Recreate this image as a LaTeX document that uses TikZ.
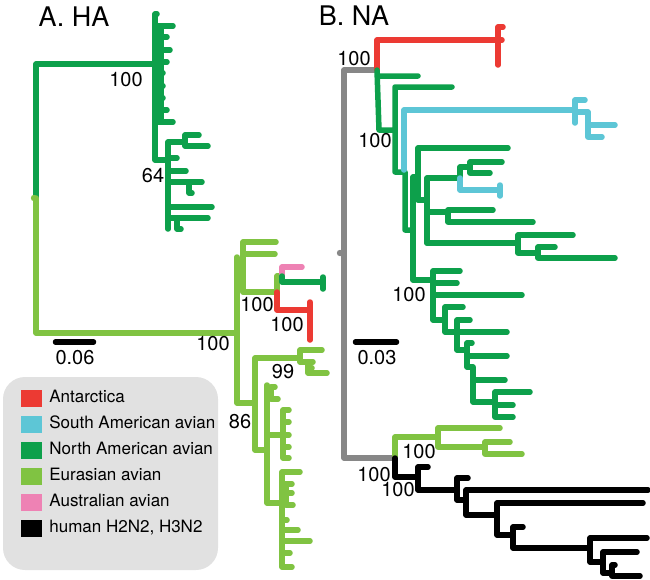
\documentclass[tikz,border=0pt]{standalone}
\usepackage{fontspec}
\setmainfont{TeX Gyre Heros}
\usetikzlibrary{positioning}

\definecolor{colAnt}{HTML}{EC3A33}
\definecolor{colSam}{HTML}{5DC6D6}
\definecolor{colNam}{HTML}{0DA04B}
\definecolor{colEur}{HTML}{80C342}
\definecolor{colAus}{HTML}{EE82B4}
\definecolor{colGray}{HTML}{878787}
\definecolor{colLegend}{HTML}{E1E1E1}

\tikzstyle{branch} = [line width=5.5pt, line cap=round, line join=round]
\tikzstyle{antarc} = [branch, draw=colAnt]
\tikzstyle{southam} = [branch, draw=colSam]
\tikzstyle{northam} = [branch, draw=colNam]
\tikzstyle{eurasia} = [branch, draw=colEur]
\tikzstyle{austral} = [branch, draw=colAus]
\tikzstyle{human} = [branch, draw=black]
\tikzstyle{backbone} = [branch, draw=colGray]
\tikzstyle{support} = [inner sep=0pt, font=\fontsize{20}{20}\selectfont]
\tikzstyle{panel} = [inner sep=0pt, font=\fontsize{27}{27}\selectfont]
\tikzstyle{swatch} = [rectangle, minimum width=21pt, minimum height=17pt, inner sep=0pt]
\tikzstyle{entry} = [inner sep=0pt, text height=12pt, text depth=3pt,
font=\fontsize{17}{17}\selectfont]

\begin{document}
\begin{tikzpicture}[x=1pt, y=-1pt]
\useasboundingbox (0,0) rectangle (650,579);

% A. HA
\node (hatitle) [panel] at (74,17) {A. HA};

\draw [northam] (36,198) -- (36,64) -- (155,64);
\draw [eurasia] (36,198) -- (36,333) -- (237,333);
\fill [colEur] (34,198) circle (3.2);

\draw [northam] (155,14) -- (155,160) -- (168,160) (155,14) -- (157,14) (161,26) -- (161,122)
  (155,26) -- (173,26) (155,37) -- (167,37) (155,50) -- (170,50) (155,62) -- (167,62)
  (155,73) -- (163,73) (155,86) -- (163,86) (155,98) -- (163,98) (155,110) -- (167,110)
  (155,122) -- (173,122);
\draw [northam] (168,142) -- (168,229) (168,142) -- (185,142) (185,135) -- (185,146)
  (185,135) -- (199,135) (185,146) -- (208,146) (168,158) -- (177,158) (168,171) -- (186,171)
  (168,182) -- (202,182) (189,182) -- (189,193) -- (192,193) (168,207) -- (212,207)
  (168,218) -- (208,218) (177,218) -- (177,229) -- (181,229);

\draw [eurasia] (237,257) -- (237,403) -- (255,403) (237,262) -- (243,262)
  (243,242) -- (243,292) -- (277,292) (243,242) -- (276,242) (243,254) -- (275,254)
  (277,292) -- (277,276) -- (282,276);
\draw [austral] (282,276) -- (282,267) -- (302,267);
\draw [northam] (282,276) -- (282,282) -- (323,282) (323,277) -- (323,289);
\draw [antarc] (277,292) -- (277,310) -- (310,310) (310,302) -- (310,340);

\draw [eurasia] (255,358) -- (255,450) -- (267,450) (255,358) -- (300,358)
  (300,350) -- (300,362) (300,350) -- (322,350) (300,362) -- (313,362)
  (308,362) -- (308,373) -- (327,373) (308,368) -- (312,368);
\draw [eurasia] (267,385) -- (267,503) -- (282,503) (267,392) -- (271,392)
  (271,387) -- (271,399) (271,387) -- (275,387) (271,399) -- (278,399)
  (267,435) -- (283,435) (283,410) -- (283,458) (283,410) -- (289,410) (283,422) -- (289,422)
  (283,435) -- (289,435) (283,447) -- (289,447) (283,458) -- (289,458);
\draw [eurasia] (282,472) -- (282,567) (286,484) -- (286,505)
  (282,472) -- (300,472) (282,484) -- (292,484) (286,493) -- (292,493) (286,505) -- (293,505)
  (282,520) -- (287,520) (282,530) -- (298,530) (282,541) -- (310,541) (282,553) -- (290,553)
  (282,567) -- (292,567);

\node (ha100a) [support] at (126,80) {100};
\node (ha64) [support] at (153,176) {64};
\node (ha100b) [support] at (213,344) {100};
\node (ha100c) [support] at (257,305) {100};
\node (ha100d) [support] at (287,325) {100};
\node (ha99) [support] at (283,372) {99};
\node (ha86) [support] at (240,422) {86};

\draw [branch] (55.5,342) -- (93.5,342);
\node (hascale) [support] at (75,358) {0.06};

% B. NA
\node (natitle) [panel] at (354,16) {B. NA};

\draw [backbone] (377,70) -- (344,70) -- (344,458) -- (395,458);
\fill [colGray] (340,253) circle (3.2);

\draw [antarc] (377,70) -- (377,40) -- (498,40) (498,27) -- (498,65) (498,27) -- (503,27)
  (498,40) -- (502,40);

\draw [northam] (377,70) -- (379,130) -- (395,130) (377,76) -- (418,76)
  (395,87) -- (395,172) -- (405,172) (395,87) -- (452,87) (405,172) -- (405,230) -- (413,230);
\draw [southam] (404,170) -- (404,110) -- (575,110) (575,100) -- (575,123) (575,100) -- (585,100)
  (575,112) -- (588,112) (588,112) -- (588,137) (588,125) -- (615,125) (588,137) -- (602,137);

\draw [northam] (413,177) -- (413,280) -- (433,280) (413,177) -- (418,177)
  (418,148) -- (418,200) -- (427,200) (418,148) -- (508,148) (427,178) -- (427,243)
  (427,178) -- (460,178) (460,167) -- (460,178) (460,167) -- (470,167) (470,162) -- (470,173)
  (470,162) -- (502,162) (470,173) -- (490,173);
\draw [southam] (460,178) -- (460,190) -- (500,190) (500,185) -- (500,196);
\draw [northam] (427,212) -- (448,212) (448,210) -- (448,222) (448,210) -- (493,210)
  (448,222) -- (533,222) (427,243) -- (518,243) (518,235) -- (518,253) (518,235) -- (573,235)
  (518,253) -- (538,253) (538,247) -- (538,258) (538,247) -- (555,247) (538,258) -- (615,258);
\draw [northam] (433,271) -- (433,320) -- (445,320) (433,271) -- (460,271) (433,283) -- (457,283)
  (433,295) -- (522,295) (445,307) -- (445,332) -- (457,332) (445,307) -- (463,307)
  (457,320) -- (457,350) -- (467,350) (457,320) -- (470,320) (457,332) -- (507,332)
  (467,343) -- (467,367) -- (473,367) (467,343) -- (472,343) (467,356) -- (507,356)
  (473,367) -- (473,402) -- (495,402) (473,380) -- (505,380) (495,392) -- (495,417)
  (495,392) -- (530,392) (495,405) -- (513,405) (495,417) -- (513,417);

\draw [eurasia] (395,458) -- (395,437) -- (438,437) (438,428) -- (438,447) (438,428) -- (500,428)
  (438,447) -- (485,447) (485,442) -- (485,454) (485,442) -- (510,442) (485,454) -- (522,454);

\draw [human] (395,458) -- (395,477) -- (418,477) (418,467) -- (418,490) -- (457,490)
  (418,467) -- (428,467) (457,478) -- (457,500) -- (466,500) (457,478) -- (468,478)
  (466,490) -- (466,515) -- (497,515) (466,490) -- (648,490) (497,503) -- (497,535) -- (513,535)
  (497,503) -- (643,503) (513,527) -- (513,548) -- (590,548) (513,527) -- (523,527)
  (590,538) -- (590,562) -- (603,562) (590,538) -- (647,538) (603,552) -- (603,573) -- (612,573)
  (603,552) -- (637,552) (612,565) -- (612,576) (612,565) -- (615,565) (612,576) -- (640,576);

\node (na100a) [support] at (354,59) {100};
\node (na100b) [support] at (375,141) {100};
\node (na100c) [support] at (409,295) {100};
\node (na100d) [support] at (419,452) {100};
\node (na100e) [support] at (374,475) {100};
\node (na100f) [support] at (398,490) {100};

\draw [branch] (355.5,342) -- (396.5,342);
\node (nascale) [support] at (377,358) {0.03};

% legend
\fill [colLegend, rounded corners=22pt] (3,377) rectangle (218,570);
\node (antbox) [swatch, fill=colAnt] at (31.5,398) {};
\node (sambox) [swatch, fill=colSam, below=8.6pt of antbox] {};
\node (nambox) [swatch, fill=colNam, below=8.6pt of sambox] {};
\node (eurbox) [swatch, fill=colEur, below=8.6pt of nambox] {};
\node (ausbox) [swatch, fill=colAus, below=8.6pt of eurbox] {};
\node (humbox) [swatch, fill=black, below=8.6pt of ausbox] {};
\node (antlabel) [entry, right=7pt of antbox] {Antarctica};
\node (samlabel) [entry, right=7pt of sambox] {South American avian};
\node (namlabel) [entry, right=7pt of nambox] {North American avian};
\node (eurlabel) [entry, right=7pt of eurbox] {Eurasian avian};
\node (auslabel) [entry, right=7pt of ausbox] {Australian avian};
\node (humlabel) [entry, right=7pt of humbox] {human H2N2, H3N2};

\end{tikzpicture}
\end{document}
